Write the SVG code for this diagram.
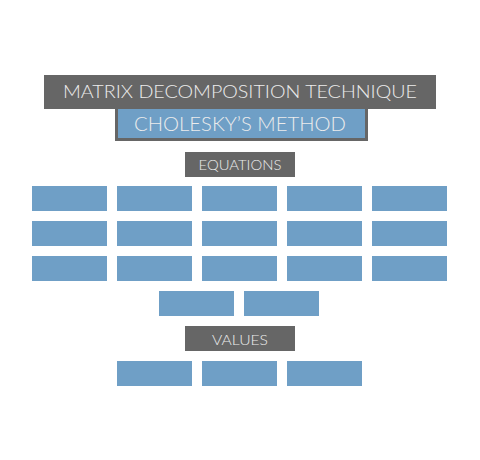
<svg xmlns="http://www.w3.org/2000/svg" width="480" height="460" viewBox="0 0 480 460">
  <style>
    .dark { fill: #666666; }
    .cell { fill: #6f9fc6; }
    .label { fill: #ececec; font-family: "Lato", "Liberation Sans", sans-serif; font-weight: 300; text-anchor: middle; }
    .small { font-size: 13.5px; }
  </style>
  <rect width="480" height="460" fill="#ffffff"/>

  <!-- heading -->
  <g id="title">
    <rect class="dark" x="44" y="75" width="392" height="34"/>
    <text class="label" x="240" y="98" font-size="18" textLength="354" lengthAdjust="spacingAndGlyphs">MATRIX DECOMPOSITION TECHNIQUE</text>
  </g>
  <g id="method">
    <rect class="dark" x="115" y="109" width="253" height="32"/>
    <rect class="cell" x="118" y="109" width="247" height="29"/>
    <text class="label" x="240" y="131" font-size="19" textLength="212" lengthAdjust="spacingAndGlyphs">CHOLESKY’S METHOD</text>
  </g>

  <!-- equations section -->
  <g id="equations">
    <rect class="dark" x="185" y="152" width="110" height="25"/>
    <text class="label small" x="240" y="170" textLength="83" lengthAdjust="spacingAndGlyphs">EQUATIONS</text>
  </g>
  <g id="eq-cells">
    <rect class="cell" x="32" y="186" width="75" height="25"/>
    <rect class="cell" x="117" y="186" width="75" height="25"/>
    <rect class="cell" x="202" y="186" width="75" height="25"/>
    <rect class="cell" x="287" y="186" width="75" height="25"/>
    <rect class="cell" x="372" y="186" width="75" height="25"/>
    <rect class="cell" x="32" y="221" width="75" height="25"/>
    <rect class="cell" x="117" y="221" width="75" height="25"/>
    <rect class="cell" x="202" y="221" width="75" height="25"/>
    <rect class="cell" x="287" y="221" width="75" height="25"/>
    <rect class="cell" x="372" y="221" width="75" height="25"/>
    <rect class="cell" x="32" y="256" width="75" height="25"/>
    <rect class="cell" x="117" y="256" width="75" height="25"/>
    <rect class="cell" x="202" y="256" width="75" height="25"/>
    <rect class="cell" x="287" y="256" width="75" height="25"/>
    <rect class="cell" x="372" y="256" width="75" height="25"/>
    <rect class="cell" x="159" y="291" width="75" height="25"/>
    <rect class="cell" x="244" y="291" width="75" height="25"/>
  </g>

  <!-- values section -->
  <g id="values">
    <rect class="dark" x="185" y="326" width="110" height="25"/>
    <text class="label small" x="240" y="345" textLength="56" lengthAdjust="spacingAndGlyphs">VALUES</text>
  </g>
  <g id="value-cells">
    <rect class="cell" x="117" y="361" width="75" height="25"/>
    <rect class="cell" x="202" y="361" width="75" height="25"/>
    <rect class="cell" x="287" y="361" width="75" height="25"/>
  </g>
</svg>
